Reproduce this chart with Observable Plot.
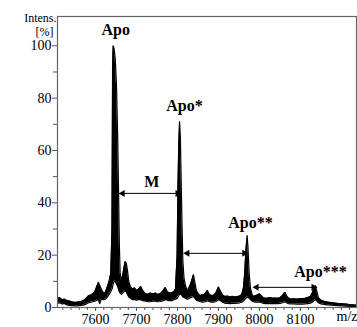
<!DOCTYPE html>
<html>
<head>
<meta charset="utf-8">
<script src="https://cdn.jsdelivr.net/npm/d3@7"></script>
<script src="https://cdn.jsdelivr.net/npm/@observablehq/plot@0.6"></script>
<style>
  html, body { margin: 0; padding: 0; background: white; }
  svg text { font-family: "Liberation Serif", "Times New Roman", serif !important; }
</style>
</head>
<body>
<div id="chart"></div>
<script>
// Spectrum: m/z, upper and lower envelope of the (noisy) trace, intensity in %
const mz = [7507,7512,7518,7524,7530,7536,7542,7548,7554,7560,7566,7572,7578,7583,7588,7593,7598,7603,7607,7610,7614,7619,7624,7629,7633,7637,7640,7641.5,7643,7645,7648,7651,7654,7656,7658,7660,7663,7666,7669,7672,7675,7678,7681,7685,7690,7695,7700,7705,7710,7715,7720,7727,7734,7740,7746,7752,7758,7764,7770,7775,7780,7786,7791,7795,7799,7801,7803,7805,7807,7809,7811,7813,7816,7820,7824,7828,7832,7836,7839,7842,7846,7851,7856,7861,7866,7870,7873,7877,7882,7888,7894,7900,7905,7910,7916,7922,7928,7934,7940,7946,7952,7957,7961,7964,7967,7970,7972,7975,7978,7982,7986,7990,7995,8000,8004,8009,8015,8021,8027,8033,8039,8045,8051,8056,8060,8063,8066,8071,8077,8084,8091,8098,8105,8112,8118,8124,8129,8133,8137,8140,8144,8150,8158,8166,8175,8184,8193,8202,8211,8220,8229,8237];
const hi = [3.5,3.8,3.0,3.2,2.6,2.5,2.2,2.0,2.0,2.2,2.4,2.8,3.6,4.5,4.8,5.2,6.0,8.0,9.6,8.5,7.0,5.5,5.8,8.0,10,13,30,92,100,99,95,85,65,45,24,13,10.5,12,15,17.5,17,14,10,8,7,7.5,6.5,7,8,6.5,5.5,5.0,5.5,5.2,5.5,5.0,5.3,6.2,7.6,6.0,5.5,5.6,6.0,7.0,20,45,62,71,65,48,32,18,11,8,6.5,7.5,9,11,12.5,10,6.5,5.2,4.6,4.8,5.0,5.8,6.5,5.2,4.6,4.6,5.6,7.8,6.2,4.8,4.2,4.4,4.0,4.3,4.0,4.2,4.4,5.0,7.5,13,22,27.5,23,13,7.5,5,4.2,4.5,4.8,5.2,4.6,3.8,3.5,3.6,3.8,3.5,3.6,3.5,3.8,4.5,5.4,5.7,4.5,3.6,3.2,3.3,3.2,3.3,3.4,3.5,3.8,4.2,5.5,7.2,8.3,6.2,3.8,2.8,2.4,2.1,1.9,1.7,1.5,1.4,1.3,1.1,1.0,0.9];
const lo = [1.6,1.8,1.4,1.5,1.0,0.8,0.7,0.6,0.6,0.7,0.8,1.0,1.4,1.8,2.0,2.2,2.4,2.8,3.0,1.5,3.2,3.0,3.2,4.0,5,6,7,8,9,10,10,9,8,7,6,5.5,5,5.5,6,6.5,6,5,4,3.5,3,3,2.8,3,3,2.6,2.5,2.2,2.2,2.4,2.4,2.2,2.3,2.5,3.0,2.8,2.6,2.6,3.0,3.2,3.5,4,4.5,5,5,5,4.5,4,3.8,3.5,3.2,3.4,3.8,4,4.2,3.6,2.8,2.5,2.2,2.0,2.1,2.3,2.6,2.3,2.0,2.0,2.3,3.0,2.6,2.0,1.6,1.6,1.5,1.6,1.6,1.7,1.8,2.0,2.5,3,3.5,4,4,3.5,3,2.5,2.2,2.0,2.0,2.0,1.9,1.6,1.5,1.5,1.6,1.5,1.5,1.5,1.6,1.8,2.0,2.2,1.8,1.5,1.4,1.4,1.3,1.3,1.3,1.4,1.5,1.6,2.0,2.6,3.0,2.5,1.8,1.4,1.2,1.0,0.9,0.8,0.7,0.6,0.5,0.4,0.4,0.3];

// Peak labels
const labels = ["Apo", "Apo*", "Apo**", "Apo***", "M"];
const labelX = [7649, 7817, 7978, 8149, 7737];
const labelY = [104, 74.9, 30.5, 11.7, 46.2];

// Double arrows (mass shift M)
const arrowX1 = [7666, 7824, 7993];
const arrowX2 = [7800, 7963, 8132];
const arrowY = [43.6, 20.7, 7.7];

// Ticks
const xMajor = [7600, 7700, 7800, 7900, 8000, 8100];
const xMinor = d3.range(7520, 8237, 20);
const yMajor = [0, 20, 40, 60, 80, 100];
const yMinor = [10, 30, 50, 70, 90];

const spectrum = mz.map((m, i) => ({mz: m, hi: hi[i], lo: lo[i]}));
const anno = labels.map((t, i) => ({t, x: labelX[i], y: labelY[i]}));
const arrows = arrowX1.map((x1, i) => ({x1, x2: arrowX2[i], y: arrowY[i]}));

const serif = "Liberation Serif";

const chart = Plot.plot({
  width: 357,
  height: 327,
  marginLeft: 57,
  marginRight: 1,
  marginTop: 16,
  marginBottom: 20,
  x: {domain: [7507, 8237]},
  y: {domain: [0, 111.2]},
  style: {fontFamily: serif, background: "white", color: "black"},
  marks: [
    Plot.areaY(spectrum, {x: "mz", y1: "lo", y2: "hi", fill: "black"}),
    Plot.line(spectrum, {x: "mz", y: "hi", stroke: "black", strokeWidth: 1.2}),
    Plot.line(spectrum, {x: "mz", y: "lo", stroke: "black", strokeWidth: 1.2}),
    Plot.frame({stroke: "#666", strokeWidth: 1.2}),
    Plot.axisX({ticks: xMinor, tickSize: 3, tickFormat: () => "", stroke: "#555"}),
    Plot.axisX({ticks: xMajor, tickSize: 4, tickPadding: 3, tickFormat: d => String(d),
      fontSize: 14, stroke: "#555", fill: "black", fontFamily: serif}),
    Plot.axisY({ticks: yMinor, tickSize: 4, tickFormat: () => "", stroke: "#555"}),
    Plot.axisY({ticks: yMajor, tickSize: 5, tickPadding: 1, tickFormat: d => String(d),
      fontSize: 14, stroke: "#555", fill: "black", letterSpacing: 1.5, fontFamily: serif}),
    Plot.link(arrows, {x1: "x1", x2: "x2", y1: "y", y2: "y", stroke: "black", strokeWidth: 1}),
    Plot.dot(arrows, {x: "x1", y: "y", symbol: "triangle", rotate: -90, r: 2.6, fill: "black", stroke: null}),
    Plot.dot(arrows, {x: "x2", y: "y", symbol: "triangle", rotate: 90, r: 2.6, fill: "black", stroke: null}),
    Plot.text(anno, {x: "x", y: "y", text: "t", fontSize: 16, fontWeight: "bold", fontFamily: serif,
      lineAnchor: "bottom", textAnchor: "middle", fill: "black", letterSpacing: 1.2}),
    Plot.text(["Intens."], {frameAnchor: "top-left", dx: -1, dy: -3, textAnchor: "end",
      fontSize: 12, fill: "black", fontFamily: serif}),
    Plot.text(["[%]"], {frameAnchor: "top-left", dx: -4, dy: 11, textAnchor: "end",
      fontSize: 12, fill: "black", fontFamily: serif}),
    Plot.text(["m/z"], {frameAnchor: "bottom-right", dx: 1, dy: 13, textAnchor: "end",
      fontSize: 14, fill: "black", fontFamily: serif})
  ]
});
document.getElementById("chart").appendChild(chart);
</script>
</body>
</html>
